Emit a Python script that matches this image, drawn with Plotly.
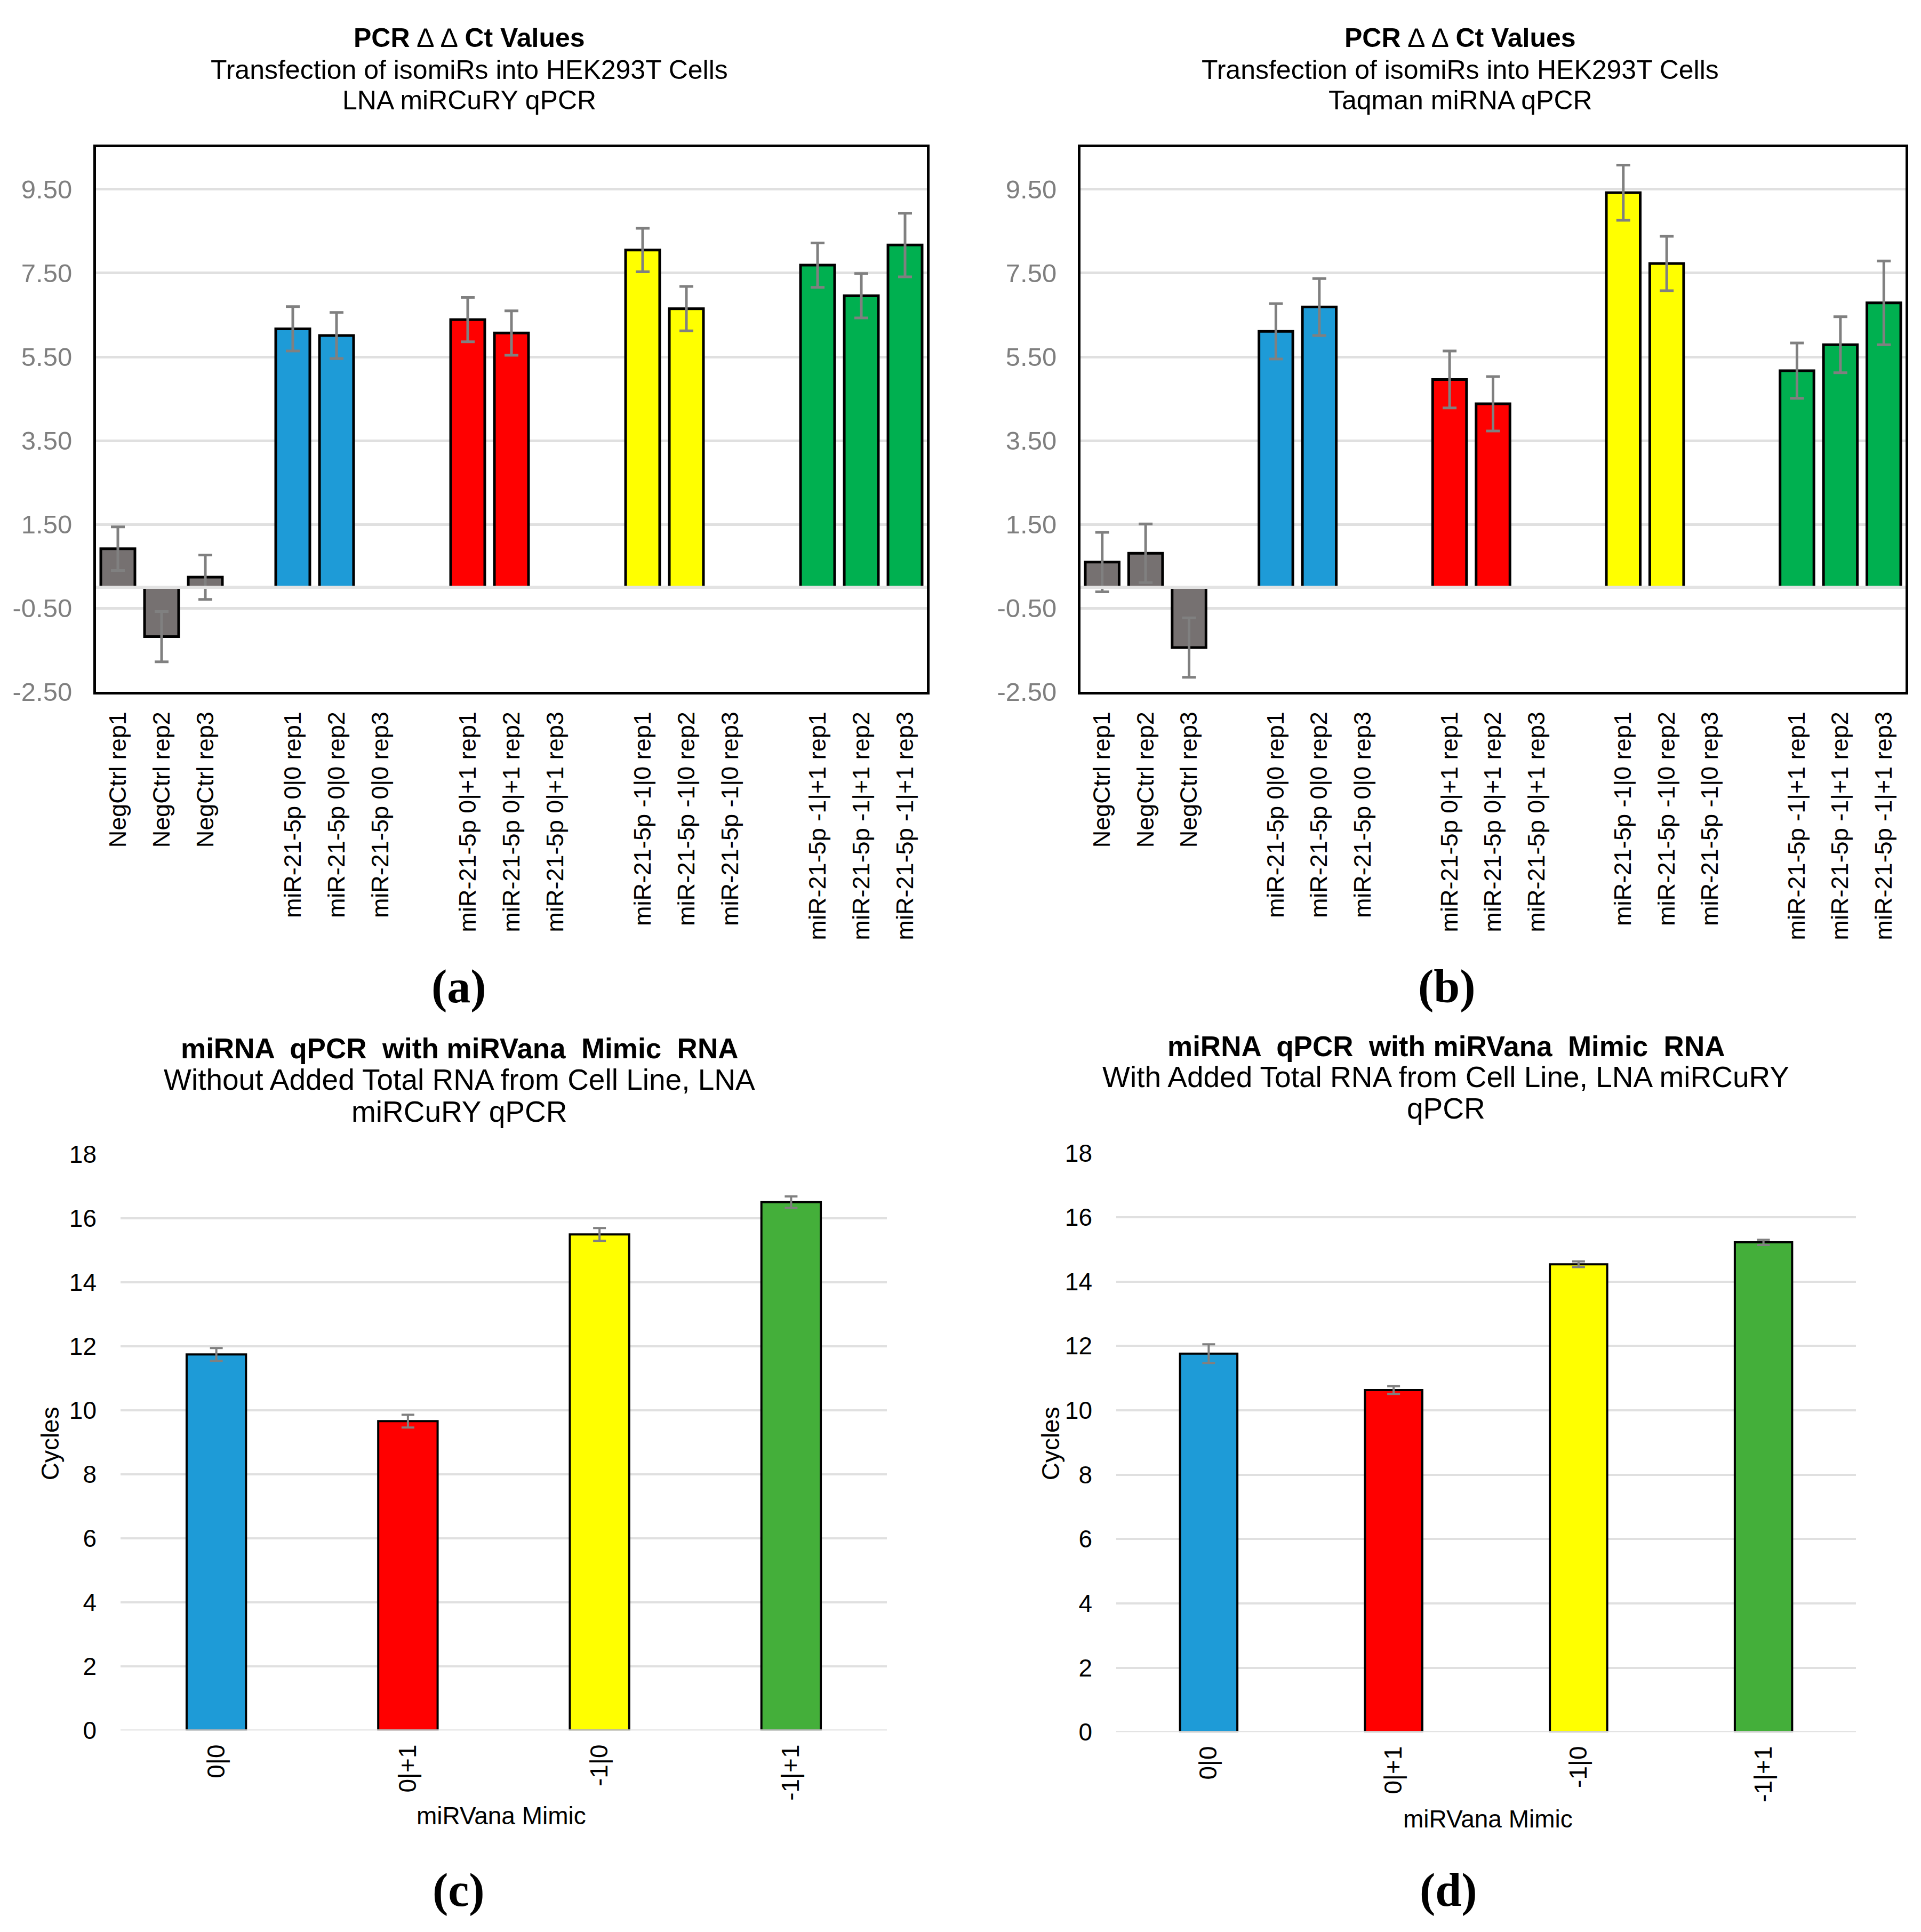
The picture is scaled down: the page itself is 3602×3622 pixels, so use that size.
import plotly.graph_objects as go

W, H = 3602, 3622

# ---------------- data ----------------
cats_ab = ["NegCtrl rep1", "NegCtrl rep2", "NegCtrl rep3", " ",
           "miR-21-5p 0|0 rep1", "miR-21-5p 0|0 rep2", "miR-21-5p 0|0 rep3", "  ",
           "miR-21-5p 0|+1 rep1", "miR-21-5p 0|+1 rep2", "miR-21-5p 0|+1 rep3", "   ",
           "miR-21-5p -1|0 rep1", "miR-21-5p -1|0 rep2", "miR-21-5p -1|0 rep3", "    ",
           "miR-21-5p -1|+1 rep1", "miR-21-5p -1|+1 rep2", "miR-21-5p -1|+1 rep3"]
vals_a = [0.92, -1.18, 0.24, None, 6.17, 6.01, None, None, 6.39, 6.07, None, None,
          8.05, 6.65, None, None, 7.69, 6.96, 8.17]
err_a = [0.52, 0.60, 0.53, None, 0.53, 0.55, None, None, 0.53, 0.53, None, None,
         0.52, 0.53, None, None, 0.53, 0.53, 0.76]
vals_b = [0.60, 0.81, -1.44, None, 6.11, 6.69, None, None, 4.96, 4.38, None, None,
          9.42, 7.73, None, None, 5.17, 5.79, 6.79]
err_b = [0.71, 0.70, 0.71, None, 0.66, 0.68, None, None, 0.68, 0.65, None, None,
         0.66, 0.65, None, None, 0.66, 0.67, 1.00]
ticks_ab = [-2.5, -0.5, 1.5, 3.5, 5.5, 7.5, 9.5]
ticklabels_ab = ["-2.50", "-0.50", "1.50", "3.50", "5.50", "7.50", "9.50"]

cats_cd = ["0|0", "0|+1", "-1|0", "-1|+1"]
vals_c = [11.75, 9.67, 15.50, 16.51]
err_c = [0.20, 0.20, 0.20, 0.18]
vals_d = [11.76, 10.63, 14.54, 15.22]
err_d = [0.29, 0.12, 0.09, 0.08]

# ---------------- styles ----------------
GREY, BLUE, RED, YEL, GRN, GRN2 = "#767171", "#1E9BD7", "#FF0000", "#FFFF00", "#00B050", "#44AF3A"
colors_ab = [GREY] * 3 + ["white"] + [BLUE] * 3 + ["white"] + [RED] * 3 + ["white"] + \
            [YEL] * 3 + ["white"] + [GRN] * 3
colors_cd = [BLUE, RED, YEL, GRN2]
FONT = "Liberation Sans, Arial, sans-serif"
SERIF = "Liberation Serif, Times New Roman, serif"
GRID = "#E0E0E0"
ERRC = "#808080"


def px(x):
    return x / W


def py(y):
    return 1 - y / H


fig = go.Figure()

# panels a, b
for vals, errs, xa, ya in [(vals_a, err_a, "x", "y"), (vals_b, err_b, "x2", "y2")]:
    fig.add_trace(go.Bar(
        x=cats_ab, y=vals, xaxis=xa, yaxis=ya,
        marker=dict(color=colors_ab, line=dict(color="black", width=5)),
        error_y=dict(type="data", array=errs, visible=True, color=ERRC, thickness=5, width=13),
        showlegend=False))

# panels c, d
for vals, errs, xa, ya in [(vals_c, err_c, "x3", "y3"), (vals_d, err_d, "x4", "y4")]:
    fig.add_trace(go.Bar(
        x=cats_cd, y=vals, xaxis=xa, yaxis=ya, width=0.31,
        marker=dict(color=colors_cd, line=dict(color="black", width=4)),
        error_y=dict(type="data", array=errs, visible=True, color=ERRC, thickness=4, width=12),
        showlegend=False))

dom_a = [px(172), px(1730)]
dom_b = [px(2018), px(3565)]
dom_ab_y = [py(1282), py(246)]
dom_c = [px(218), px(1655)]
dom_c_y = [py(3258), py(2162)]
dom_d = [px(2085), px(3472)]
dom_d_y = [py(3261), py(2159)]

xab = dict(type="category", categoryorder="array", categoryarray=cats_ab,
           showline=True, mirror=True, linecolor="black", linewidth=5,
           showgrid=False, ticks="", tickangle=-90, ticklabelstandoff=14,
           tickfont=dict(family=FONT, size=45, color="black"))
yab = dict(range=[-2.5, 10.5], tickvals=ticks_ab, ticktext=ticklabels_ab,
           showline=True, mirror=True, linecolor="black", linewidth=5,
           showgrid=True, gridcolor=GRID, gridwidth=5, zeroline=False,
           ticks="", ticklabelstandoff=30,
           tickfont=dict(family=FONT, size=49, color="#7F7F7F"))
xcd = dict(type="category", categoryorder="array", categoryarray=cats_cd,
           showline=False, showgrid=False, ticks="", tickangle=-90, ticklabelstandoff=16,
           tickfont=dict(family=FONT, size=46, color="black"))
ycd = dict(range=[0, 18], dtick=2, showline=False, showgrid=True, gridcolor=GRID,
           gridwidth=4, zeroline=False, ticks="", ticklabelstandoff=44,
           tickfont=dict(family=FONT, size=46, color="black"))

fig.update_layout(
    width=W, height=H, margin=dict(l=0, r=0, t=0, b=0),
    paper_bgcolor="white", plot_bgcolor="white",
    bargap=0.22,
    xaxis=dict(domain=dom_a, anchor="y", **xab),
    yaxis=dict(domain=dom_ab_y, anchor="x", **yab),
    xaxis2=dict(domain=dom_b, anchor="y2", **xab),
    yaxis2=dict(domain=dom_ab_y, anchor="x2", **yab),
    xaxis3=dict(domain=dom_c, anchor="y3", **xcd),
    yaxis3=dict(domain=dom_c_y, anchor="x3", **ycd),
    xaxis4=dict(domain=dom_d, anchor="y4", **xcd),
    yaxis4=dict(domain=dom_d_y, anchor="x4", **ycd),
)

# zero lines (category axis) for a/b and baseline for c/d
for xr, yr, w, c in [("x domain", "y", 6, "#E3E3E3"), ("x2 domain", "y2", 6, "#E3E3E3"),
                     ("x3 domain", "y3", 4, GRID), ("x4 domain", "y4", 4, GRID)]:
    fig.add_shape(type="line", xref=xr, yref=yr, x0=0, x1=1, y0=0, y1=0,
                  line=dict(color=c, width=w), layer="above")

ann = []


def text(x, y, s, size, family=FONT, angle=0, color="black"):
    ann.append(dict(xref="paper", yref="paper", x=px(x), y=py(y), text=s,
                    showarrow=False, xanchor="center", yanchor="middle", textangle=angle,
                    font=dict(family=family, size=size, color=color)))


# titles a, b
text(872, 38, "<b>PCR</b> \u2206 \u2206 <b>Ct Values</b>", 50)
text(872, 98, "Transfection of isomiRs into HEK293T Cells", 50)
text(872, 156, "LNA miRCuRY qPCR", 50)
text(2730, 38, "<b>PCR</b> \u2206 \u2206 <b>Ct Values</b>", 50)
text(2730, 98, "Transfection of isomiRs into HEK293T Cells", 50)
text(2730, 156, "Taqman miRNA qPCR", 50)
# titles c, d
text(853, 1960, "<b>miRNA  qPCR  with miRVana  Mimic  RNA</b>", 53)
text(853, 2020, "Without Added Total RNA from Cell Line, LNA", 55)
text(853, 2080, "miRCuRY qPCR", 55)
text(2703, 1956, "<b>miRNA  qPCR  with miRVana  Mimic  RNA</b>", 53)
text(2703, 2014, "With Added Total RNA from Cell Line, LNA miRCuRY", 55)
text(2703, 2074, "qPCR", 55)
# axis titles c, d
text(86, 2712, "Cycles", 46, angle=-90)
text(1962, 2712, "Cycles", 46, angle=-90)
text(932, 3420, "miRVana Mimic", 46)
text(2782, 3426, "miRVana Mimic", 46)
# panel letters
text(852, 1842, "<b>(a)</b>", 88, family=SERIF)
text(2705, 1842, "<b>(b)</b>", 88, family=SERIF)
text(852, 3562, "<b>(c)</b>", 88, family=SERIF)
text(2708, 3562, "<b>(d)</b>", 88, family=SERIF)

fig.update_layout(annotations=ann)
fig.write_html("out.html")
